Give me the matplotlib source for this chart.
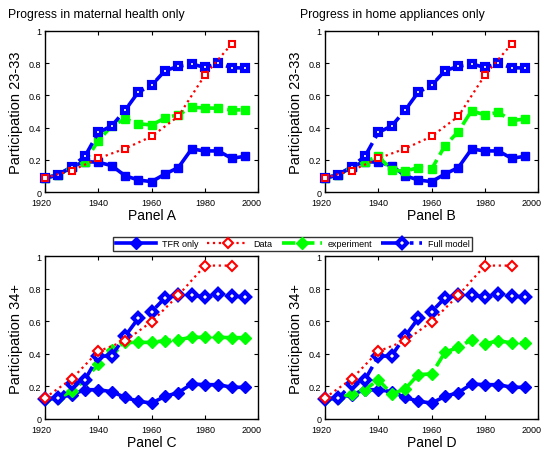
import matplotlib
matplotlib.use("Agg")
import matplotlib.pyplot as plt
from matplotlib.transforms import ScaledTranslation

plt.rcParams['font.family'] = ['Liberation Sans', 'DejaVu Sans']

years = [1920, 1925, 1930, 1935, 1940, 1945, 1950, 1955,
         1960, 1965, 1970, 1975, 1980, 1985, 1990, 1995]
data_years = [1920, 1930, 1940, 1950, 1960, 1970, 1980, 1990]

# Ages 23-33
tfr_young = [0.089, 0.107, 0.159, 0.19, 0.186, 0.165, 0.103, 0.076,
             0.066, 0.113, 0.153, 0.268, 0.256, 0.256, 0.21, 0.223]
full_young = [0.089, 0.107, 0.159, 0.223, 0.371, 0.41, 0.507, 0.62,
              0.662, 0.753, 0.779, 0.794, 0.773, 0.798, 0.771, 0.769]
data_young = [0.09, 0.134, 0.21, 0.27, 0.346, 0.47, 0.726, 0.918]
health_young = [0.089, 0.107, 0.155, 0.19, 0.32, 0.41, 0.454, 0.425,
                0.416, 0.46, 0.48, 0.526, 0.522, 0.52, 0.509, 0.511]
appl_young = [0.089, 0.107, 0.155, 0.19, 0.223, 0.138, 0.13, 0.153,
              0.144, 0.289, 0.375, 0.505, 0.478, 0.495, 0.443, 0.454]

# Ages 34+
tfr_old = [0.123, 0.129, 0.15, 0.18, 0.18, 0.168, 0.133, 0.109,
           0.098, 0.139, 0.162, 0.215, 0.211, 0.211, 0.195, 0.195]
full_old = [0.123, 0.129, 0.213, 0.242, 0.385, 0.389, 0.508, 0.619,
            0.66, 0.744, 0.764, 0.764, 0.748, 0.768, 0.754, 0.752]
data_old = [0.13, 0.246, 0.416, 0.48, 0.598, 0.76, 0.943, 0.943]
health_old = [0.123, 0.129, 0.17, 0.24, 0.338, 0.424, 0.471, 0.471,
              0.471, 0.482, 0.488, 0.502, 0.502, 0.502, 0.5, 0.5]
appl_old = [0.123, 0.129, 0.154, 0.18, 0.242, 0.154, 0.184, 0.273,
            0.277, 0.41, 0.44, 0.488, 0.461, 0.482, 0.467, 0.467]

x_ticks = [1920, 1940, 1960, 1980, 2000]
y_ticks = [0, 0.2, 0.4, 0.6, 0.8, 1]
y_tick_labels = ['0', '0.2', '0.4', '0.6', '0.8', '1']

panels = [
    # (rect in px, tfr, data, experiment, full, marker, ylabel, xlabel)
    ([45, 31.7, 213.3, 161.6], tfr_young, data_young, health_young, full_young,
     's', 'Participation 23-33', 'Panel A'),
    ([325, 31.7, 213.3, 161.6], tfr_young, data_young, appl_young, full_young,
     's', 'Participation 23-33', 'Panel B'),
    ([45, 257.3, 213.3, 162.7], tfr_old, data_old, health_old, full_old,
     'D', 'Participation 34+', 'Panel C'),
    ([325, 257.3, 213.3, 162.7], tfr_old, data_old, appl_old, full_old,
     'D', 'Participation 34+', 'Panel D'),
]

W, H = 545, 452
fig = plt.figure(figsize=(W / 100, H / 100), dpi=100)

blue, red, green = (0, 0, 1), (1, 0, 0), (0, 1, 0)
for rect, tfr, dat, exp, full, mk, ylab, xlab in panels:
    x0, y0, w, h = rect
    ax = fig.add_axes([x0 / W, 1 - (y0 + h) / H, w / W, h / H])
    ms = 5.5 if mk == 's' else 6.5
    ax.plot(years, tfr, '-', color=blue, lw=2.6, marker=mk, ms=ms,
            mfc=blue, mec=blue, clip_on=False, zorder=3)
    ax.plot(data_years, dat, ':', color=red, lw=1.6, marker=mk, ms=ms - 1.5,
            mfc='white', mec=red, mew=1.5, clip_on=False, zorder=4)
    ax.plot(years, exp, '--', color=green, lw=2.6, marker=mk, ms=ms,
            mfc=green, mec=green, clip_on=False, zorder=3)
    ax.plot(years, full, '-.', color=blue, lw=2.6, marker=mk, ms=ms - 1,
            mfc='white', mec=blue, mew=3.0, clip_on=False, zorder=3)
    ax.set_xlim(1920, 2000)
    ax.set_ylim(0, 1)
    ax.set_xticks(x_ticks)
    ax.set_yticks(y_ticks)
    ax.set_yticklabels(y_tick_labels)
    ax.tick_params(direction='in', length=3, labelsize=6.5, top=True, right=True,
                   pad=2.5)
    ax.tick_params(axis='x', pad=4)
    labels = ax.get_xticklabels()
    labels[0].set_transform(labels[0].get_transform() +
                            ScaledTranslation(-4 / 100, 0, fig.dpi_scale_trans))
    labels[-1].set_transform(labels[-1].get_transform() +
                             ScaledTranslation(-7 / 100, 0, fig.dpi_scale_trans))
    ax.set_ylabel(ylab, fontsize=10.5, labelpad=4)
    ax.set_xlabel(xlab, fontsize=10, labelpad=1)
    for s in ax.spines.values():
        s.set_linewidth(1.0)

fig.text(8 / W, 1 - 15 / H, 'Progress in maternal health only', fontsize=8.8,
         va='center', ha='left')
fig.text(300 / W, 1 - 15 / H, 'Progress in home appliances only', fontsize=8.8,
         va='center', ha='left')

legend_handles = [
    plt.Line2D([], [], color=blue, ls='-', lw=2.6, marker='D', ms=6.5,
               mfc=blue, mec=blue),
    plt.Line2D([], [], color=red, ls=':', lw=1.6, marker='D', ms=5,
               mfc='white', mec=red, mew=1.5),
    plt.Line2D([], [], color=green, ls='--', lw=2.6, marker='D', ms=6.5,
               mfc=green, mec=green),
    plt.Line2D([], [], color=blue, ls='-.', lw=2.6, marker='D', ms=5.5,
               mfc='white', mec=blue, mew=3.0),
]
fig.legend(legend_handles, ['TFR only', 'Data', 'experiment', 'Full model'],
           ncol=4, loc='lower left', mode='expand',
           bbox_to_anchor=(113 / W, 1 - 252 / H, 359 / W, 20 / H),
           fontsize=6.5, frameon=True, fancybox=False, edgecolor='black',
           borderpad=0.3, handlelength=4.5, handletextpad=0.6, columnspacing=1.0,
           borderaxespad=0)

fig.savefig('out.png', dpi=100)
